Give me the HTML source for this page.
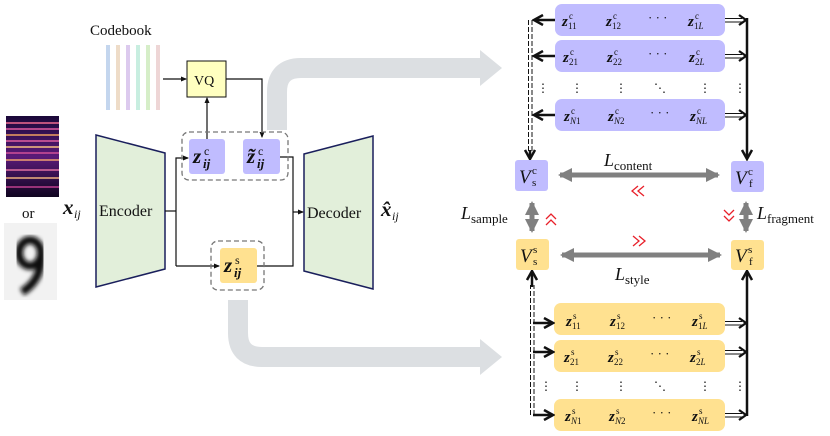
<!DOCTYPE html>
<html><head><meta charset="utf-8"><style>
body{margin:0;background:#fff}
svg{display:block}
text{font-family:"Liberation Serif",serif;fill:#111}
.z{font-style:italic;font-weight:bold;font-size:15px}
.zs{font-size:9px}
.zb{font-style:italic;font-weight:bold;font-size:21px}
.sp{font-size:12px}
.sb{font-size:13px;font-style:italic;font-weight:bold}
</style></head><body>
<svg width="830" height="436" viewBox="0 0 830 436" xmlns="http://www.w3.org/2000/svg">
<defs>
<marker id="a" markerWidth="6" markerHeight="6" refX="5" refY="3" orient="auto" markerUnits="userSpaceOnUse"><path d="M0,0.5 L6,3 L0,5.5z" fill="#111"/></marker>
<marker id="b" markerWidth="12" markerHeight="12" refX="10" refY="6" orient="auto" markerUnits="userSpaceOnUse"><path d="M1,1 L10,6 L1,11" fill="none" stroke="#111" stroke-width="2.5"/></marker>
<marker id="g" markerWidth="14" markerHeight="14" refX="12" refY="7" orient="auto-start-reverse" markerUnits="userSpaceOnUse"><path d="M0,0 L14,7 L0,14z" fill="#808080"/></marker>
<linearGradient id="sp" x1="0" y1="0" x2="0" y2="1">
<stop offset="0" stop-color="#1a0838"/><stop offset="0.5" stop-color="#5a1a78"/><stop offset="1" stop-color="#100520"/></linearGradient>
<filter id="bl"><feGaussianBlur stdDeviation="2"/></filter>
</defs>
<path d="M277,130 V92 Q277,68 301,68 H480" fill="none" stroke="#dcdfe2" stroke-width="20"/>
<path d="M480,50 L502,68 L480,86z" fill="#dcdfe2"/>
<path d="M238,300 V333 Q238,357 262,357 H480" fill="none" stroke="#dcdfe2" stroke-width="20"/>
<path d="M480,339 L502,357 L480,375z" fill="#dcdfe2"/>

<rect x="6" y="116" width="53" height="81" fill="url(#sp)"/>
<g stroke-width="1.5">
<line x1="6" x2="59" y1="123" y2="123" stroke="#f06a90"/><line x1="6" x2="59" y1="129" y2="129" stroke="#e05aa0"/>
<line x1="6" x2="59" y1="135" y2="135" stroke="#f0a060"/><line x1="6" x2="59" y1="141" y2="141" stroke="#e060a0"/>
<line x1="6" x2="59" y1="147" y2="147" stroke="#f8c080"/><line x1="6" x2="59" y1="153" y2="153" stroke="#d05098"/>
<line x1="6" x2="59" y1="160" y2="160" stroke="#f0a070"/><line x1="6" x2="59" y1="170" y2="170" stroke="#e070a0"/>
<line x1="6" x2="59" y1="178" y2="178" stroke="#f0b080"/><line x1="6" x2="59" y1="187" y2="187" stroke="#c04090"/>
</g>
<text x="22" y="218" font-size="15">or</text>
<rect x="4" y="223" width="53" height="77" fill="#f2f2f2"/>
<g filter="url(#bl)">
<ellipse cx="30" cy="253" rx="11" ry="13" fill="none" stroke="#111" stroke-width="8"/>
<path d="M41,255 Q42,280 22,292" fill="none" stroke="#111" stroke-width="8"/>
</g>

<text x="90" y="35" font-size="15">Codebook</text>
<rect x="106" y="45" width="4" height="65" fill="#c4d6ee"/>
<rect x="116" y="45" width="4" height="65" fill="#eedcc8"/>
<rect x="126" y="45" width="4" height="65" fill="#dccaee"/>
<rect x="136" y="45" width="4" height="65" fill="#c8eee0"/>
<rect x="146" y="45" width="4" height="65" fill="#d6eec8"/>
<rect x="156" y="45" width="4" height="65" fill="#eed6d6"/>
<line x1="163" y1="79" x2="186" y2="79" stroke="#111" stroke-width="1.2" marker-end="url(#a)"/>
<rect x="187" y="61" width="39" height="36" fill="#ffffc0" stroke="#111" stroke-width="1"/>
<text x="194" y="85" font-size="14">VQ</text>
<polyline points="226,79 262,79 262,137" fill="none" stroke="#111" stroke-width="1.2" marker-end="url(#a)"/>
<line x1="207" y1="139" x2="207" y2="98" stroke="#111" stroke-width="1.2" marker-end="url(#a)"/>

<polygon points="96,135 165,153 165,269 96,287" fill="#e2efda" stroke="#1a1f5c" stroke-width="1.5"/>
<text x="99" y="216" font-size="16">Encoder</text>
<polygon points="304,154 373,136 373,289 304,271" fill="#e2efda" stroke="#1a1f5c" stroke-width="1.5"/>
<text x="307" y="218" font-size="16">Decoder</text>
<text x="63" y="214" class="zb" font-size="18">x</text><text x="74" y="218" font-size="12" font-style="italic">ij</text>
<text x="381" y="216" class="zb" font-size="18">x̂</text><text x="392" y="220" font-size="12" font-style="italic">ij</text>

<polyline points="165,211 176,211" fill="none" stroke="#111" stroke-width="1.2"/>
<polyline points="176,266 176,158 188,158" fill="none" stroke="#111" stroke-width="1.2" marker-end="url(#a)"/>
<polyline points="176,266 219,266" fill="none" stroke="#111" stroke-width="1.2" marker-end="url(#a)"/>
<polyline points="280,157 293,157 293,266 257,266" fill="none" stroke="#111" stroke-width="1.2"/>
<line x1="293" y1="212" x2="303" y2="212" stroke="#111" stroke-width="1.2" marker-end="url(#a)"/>
<rect x="182" y="132" width="106" height="48" rx="7" fill="none" stroke="#777" stroke-width="1.3" stroke-dasharray="5,3"/>
<rect x="189" y="139" width="36" height="35" rx="3" fill="#c0bcff"/>
<rect x="243" y="139" width="37" height="35" rx="3" fill="#c0bcff"/>
<text x="193" y="163" class="zb">z</text><text x="204" y="155" class="sp">c</text><text x="203" y="168" class="sb">ij</text>
<text x="247" y="163" class="zb">z̃</text><text x="258" y="155" class="sp">c</text><text x="257" y="168" class="sb">ij</text>
<rect x="211" y="241" width="53" height="49" rx="7" fill="none" stroke="#777" stroke-width="1.3" stroke-dasharray="5,3"/>
<rect x="220" y="248" width="37" height="35" rx="3" fill="#ffe190"/>
<text x="224" y="272" class="zb">z</text><text x="235" y="264" class="sp">s</text><text x="234" y="277" class="sb">ij</text>

<rect x="555" y="4" width="170" height="32" rx="7" fill="#c0bcff"/>
<rect x="555" y="40" width="170" height="32" rx="7" fill="#c0bcff"/>
<rect x="555" y="99" width="170" height="32" rx="7" fill="#c0bcff"/>
<g>
<text x="562" y="26" class="z">z</text><text x="569" y="19" class="zs">c</text><text x="568" y="29" class="zs">11</text>
<text x="606" y="26" class="z">z</text><text x="613" y="19" class="zs">c</text><text x="612" y="29" class="zs">12</text>
<text x="648" y="22" font-size="13">· · ·</text>
<text x="688" y="26" class="z">z</text><text x="695" y="19" class="zs">c</text><text x="694" y="29" class="zs">1<tspan font-style="italic">L</tspan></text>
<text x="563" y="62" class="z">z</text><text x="570" y="55" class="zs">c</text><text x="569" y="65" class="zs">21</text>
<text x="607" y="62" class="z">z</text><text x="614" y="55" class="zs">c</text><text x="613" y="65" class="zs">22</text>
<text x="648" y="58" font-size="13">· · ·</text>
<text x="689" y="62" class="z">z</text><text x="696" y="55" class="zs">c</text><text x="695" y="65" class="zs">2<tspan font-style="italic">L</tspan></text>
<text x="564" y="121" class="z">z</text><text x="571" y="114" class="zs">c</text><text x="570" y="124" class="zs"><tspan font-style="italic">N</tspan>1</text>
<text x="608" y="121" class="z">z</text><text x="615" y="114" class="zs">c</text><text x="614" y="124" class="zs"><tspan font-style="italic">N</tspan>2</text>
<text x="650" y="117" font-size="13">· · ·</text>
<text x="690" y="121" class="z">z</text><text x="697" y="114" class="zs">c</text><text x="696" y="124" class="zs" font-style="italic">NL</text>
<text x="537" y="92" font-size="12">⋮</text><text x="571" y="92" font-size="12">⋮</text><text x="615" y="92" font-size="12">⋮</text><text x="654" y="92" font-size="12">⋱</text><text x="699" y="92" font-size="12">⋮</text><text x="734" y="92" font-size="12">⋮</text>

<rect x="554" y="303" width="171" height="32" rx="7" fill="#ffe190"/>
<rect x="554" y="340" width="171" height="32" rx="7" fill="#ffe190"/>
<rect x="554" y="399" width="171" height="32" rx="7" fill="#ffe190"/>
<text x="566" y="326" class="z">z</text><text x="573" y="319" class="zs">s</text><text x="572" y="329" class="zs">11</text>
<text x="610" y="326" class="z">z</text><text x="617" y="319" class="zs">s</text><text x="616" y="329" class="zs">12</text>
<text x="652" y="322" font-size="13">· · ·</text>
<text x="692" y="326" class="z">z</text><text x="699" y="319" class="zs">s</text><text x="698" y="329" class="zs">1<tspan font-style="italic">L</tspan></text>
<text x="564" y="362" class="z">z</text><text x="571" y="355" class="zs">s</text><text x="570" y="365" class="zs">21</text>
<text x="608" y="362" class="z">z</text><text x="615" y="355" class="zs">s</text><text x="614" y="365" class="zs">22</text>
<text x="650" y="358" font-size="13">· · ·</text>
<text x="690" y="362" class="z">z</text><text x="697" y="355" class="zs">s</text><text x="696" y="365" class="zs">2<tspan font-style="italic">L</tspan></text>
<text x="565" y="421" class="z">z</text><text x="572" y="414" class="zs">s</text><text x="571" y="424" class="zs"><tspan font-style="italic">N</tspan>1</text>
<text x="609" y="421" class="z">z</text><text x="616" y="414" class="zs">s</text><text x="615" y="424" class="zs"><tspan font-style="italic">N</tspan>2</text>
<text x="652" y="417" font-size="13">· · ·</text>
<text x="692" y="421" class="z">z</text><text x="699" y="414" class="zs">s</text><text x="698" y="424" class="zs" font-style="italic">NL</text>
<text x="540" y="390" font-size="12">⋮</text><text x="571" y="390" font-size="12">⋮</text><text x="615" y="390" font-size="12">⋮</text><text x="654" y="390" font-size="12">⋱</text><text x="699" y="390" font-size="12">⋮</text><text x="734" y="390" font-size="12">⋮</text>
</g>

<g stroke="#111" fill="none">
<line x1="555" y1="20" x2="534" y2="20" stroke-width="2.5" marker-end="url(#b)"/>
<line x1="555" y1="56" x2="534" y2="56" stroke-width="2.5" marker-end="url(#b)"/>
<line x1="555" y1="115" x2="534" y2="115" stroke-width="2.5" marker-end="url(#b)"/>
<line x1="528.5" y1="20" x2="528.5" y2="152" stroke-width="1" stroke-dasharray="5,2"/>
<line x1="532" y1="20" x2="532" y2="152" stroke-width="1" stroke-dasharray="5,2"/>
<line x1="530" y1="150" x2="530" y2="159" stroke-width="2.5" marker-end="url(#b)"/>
<line x1="725" y1="18.5" x2="742" y2="18.5" stroke-width="1"/><line x1="725" y1="22" x2="742" y2="22" stroke-width="1"/>
<line x1="725" y1="54.5" x2="742" y2="54.5" stroke-width="1"/><line x1="725" y1="58" x2="742" y2="58" stroke-width="1"/>
<line x1="725" y1="113.5" x2="742" y2="113.5" stroke-width="1"/><line x1="725" y1="117" x2="742" y2="117" stroke-width="1"/>
<path d="M739,15 L746,20 L739,25 M739,51 L746,56 L739,61 M739,110 L746,115 L739,120" stroke-width="2.3"/>
<line x1="747" y1="18" x2="747" y2="159" stroke-width="2.5" marker-end="url(#b)"/>

<line x1="533" y1="323" x2="553" y2="323" stroke-width="2.5" marker-end="url(#b)"/>
<line x1="533" y1="352" x2="553" y2="352" stroke-width="2.5" marker-end="url(#b)"/>
<line x1="533" y1="415" x2="553" y2="415" stroke-width="2.5" marker-end="url(#b)"/>
<line x1="530.5" y1="415" x2="530.5" y2="285" stroke-width="1" stroke-dasharray="5,2"/>
<line x1="534" y1="415" x2="534" y2="285" stroke-width="1" stroke-dasharray="5,2"/>
<line x1="532" y1="287" x2="532" y2="271" stroke-width="2.5" marker-end="url(#b)"/>
<line x1="725" y1="321.5" x2="742" y2="321.5" stroke-width="1"/><line x1="725" y1="325" x2="742" y2="325" stroke-width="1"/>
<line x1="725" y1="350.5" x2="742" y2="350.5" stroke-width="1"/><line x1="725" y1="354" x2="742" y2="354" stroke-width="1"/>
<line x1="725" y1="413.5" x2="742" y2="413.5" stroke-width="1"/><line x1="725" y1="417" x2="742" y2="417" stroke-width="1"/>
<path d="M739,318 L746,323 L739,328 M739,347 L746,352 L739,357 M739,410 L746,415 L739,420" stroke-width="2.3"/>
<line x1="747" y1="416" x2="747" y2="271" stroke-width="2.5" marker-end="url(#b)"/>
</g>

<rect x="515" y="160" width="33" height="31" rx="3" fill="#c0bcff"/>
<rect x="731" y="161" width="33" height="31" rx="3" fill="#c0bcff"/>
<rect x="516" y="239" width="33" height="31" rx="3" fill="#ffe190"/>
<rect x="731" y="240" width="33" height="30" rx="3" fill="#ffe190"/>
<g>
<text x="519" y="183" font-size="19" font-style="italic">V</text><text x="532" y="174" font-size="11">c</text><text x="532" y="186" font-size="11">s</text>
<text x="735" y="184" font-size="19" font-style="italic">V</text><text x="748" y="175" font-size="11">c</text><text x="749" y="187" font-size="11">f</text>
<text x="520" y="262" font-size="19" font-style="italic">V</text><text x="533" y="253" font-size="11">s</text><text x="533" y="265" font-size="11">s</text>
<text x="735" y="262" font-size="19" font-style="italic">V</text><text x="748" y="253" font-size="11">s</text><text x="749" y="265" font-size="11">f</text>
</g>

<g stroke="#808080" stroke-width="5">
<line x1="560" y1="175" x2="718" y2="175" marker-start="url(#g)" marker-end="url(#g)"/>
<line x1="562" y1="255" x2="720" y2="255" marker-start="url(#g)" marker-end="url(#g)"/>
<line x1="532" y1="203" x2="532" y2="231" marker-start="url(#g)" marker-end="url(#g)"/>
<line x1="746" y1="203" x2="746" y2="231" marker-start="url(#g)" marker-end="url(#g)"/>
</g>
<text x="604" y="166" font-size="18" font-style="italic">L</text><text x="614" y="170" font-size="13">content</text>
<text x="615" y="280" font-size="18" font-style="italic">L</text><text x="625" y="284" font-size="13">style</text>
<text x="461" y="219" font-size="18" font-style="italic">L</text><text x="471" y="223" font-size="13">sample</text>
<text x="757" y="219" font-size="18" font-style="italic">L</text><text x="767" y="223" font-size="13">fragment</text>
<g stroke="#e8202a" stroke-width="1.3" fill="none">
<path d="M638,186 L632,191 L638,196 M644,186 L638,191 L644,196"/>
<path d="M633,236 L639,241 L633,246 M639,236 L645,241 L639,246"/>
<path d="M546,219 L551,214 L556,219 M546,225 L551,220 L556,225"/>
<path d="M724,210 L729,215 L734,210 M724,216 L729,221 L734,216"/>
</g>
</svg>
</body></html>
